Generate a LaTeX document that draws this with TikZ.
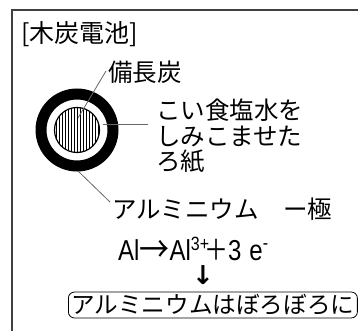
\documentclass[tikz,border=0pt]{standalone}
\usepackage{fontspec}
\usetikzlibrary{calc}
\newfontfamily\jpfont{Noto Sans CJK JP}
\newfontfamily\latinfont{Liberation Sans}
\newfontfamily\arrowfont{DejaVu Sans}
\begin{document}
\begin{tikzpicture}[x=1pt,y=-1pt,
  label/.style={font=\jpfont\fontsize{24.5}{26}\selectfont, inner sep=0pt, anchor=west},
  leader/.style={draw=gray!80!black, line width=0.8pt},
  frameline/.style={draw=black!75, line width=1.6pt}]
\useasboundingbox (0,0) rectangle (358,331);
% open frame: top and left edges only
\draw[frameline] (358,10) -- (12,10) -- (12,331);
% title
\node[label, font=\jpfont\fontsize{25}{27}\selectfont] (title) at (21,34) {[木炭電池]};
% cross-section: aluminium ring, paper gap, charcoal core
\coordinate (c) at (77,130);
\fill[black, even odd rule] (c) circle (41.5) (c) circle (30.5);
\begin{scope}
  \clip (c) circle (22.5);
  \foreach \i in {-24,-21,...,24} {
    \draw[line width=0.9pt] ($(c)+(\i,-25)$) -- ($(c)+(\i,25)$);
  }
\end{scope}
\draw[line width=1.2pt] (c) circle (22.5);
\coordinate (core) at (78,118);
\coordinate (paper) at (103,124);
\coordinate (paperend) at (148,124);
\coordinate (ring) at (78,171);
% labels
\node[label] (charcoal) at (108,72) {備長炭};
\node[label] (salt1) at (156,110.5) {こい食塩水を};
\node[label] (salt2) at (156,136) {しみこませた};
\node[label] (salt3) at (156,161) {ろ紙};
\node[label] (alu) at (112,209) {アルミニウム\hspace{1em}ー極};
% half-reaction, set in a tall narrow style
\node[label, font=\latinfont\fontsize{24}{26}\selectfont] (eq) at (118,250)
  {\scalebox{1}[1.2]{Al{\jpfont\fontsize{30}{30}\selectfont\raisebox{-2pt}{→}}Al\raisebox{8pt}{\fontsize{16}{16}\selectfont 3+}\hspace{-5pt}{\jpfont ＋}3\hspace{8pt}e\raisebox{9pt}{\fontsize{16}{16}\selectfont -}}};
\node[label, anchor=center, font=\arrowfont\bfseries\fontsize{26}{28}\selectfont] (arr) at (203,275) {↓};
\node[label, draw, line width=0.8pt, rounded corners=6pt, inner xsep=3pt, inner ysep=2.5pt,
  font=\jpfont\fontsize{23.6}{25}\selectfont] (result) at (68,305) {アルミニウムはぼろぼろに};
% leader lines
\draw[leader] (core) -- ($(charcoal.west)+(-2,-1)$);
\draw[leader] (paper) -- (paperend);
\draw[leader] (ring) -- ($(alu.west)+(-2,-7)$);
\end{tikzpicture}
\end{document}
